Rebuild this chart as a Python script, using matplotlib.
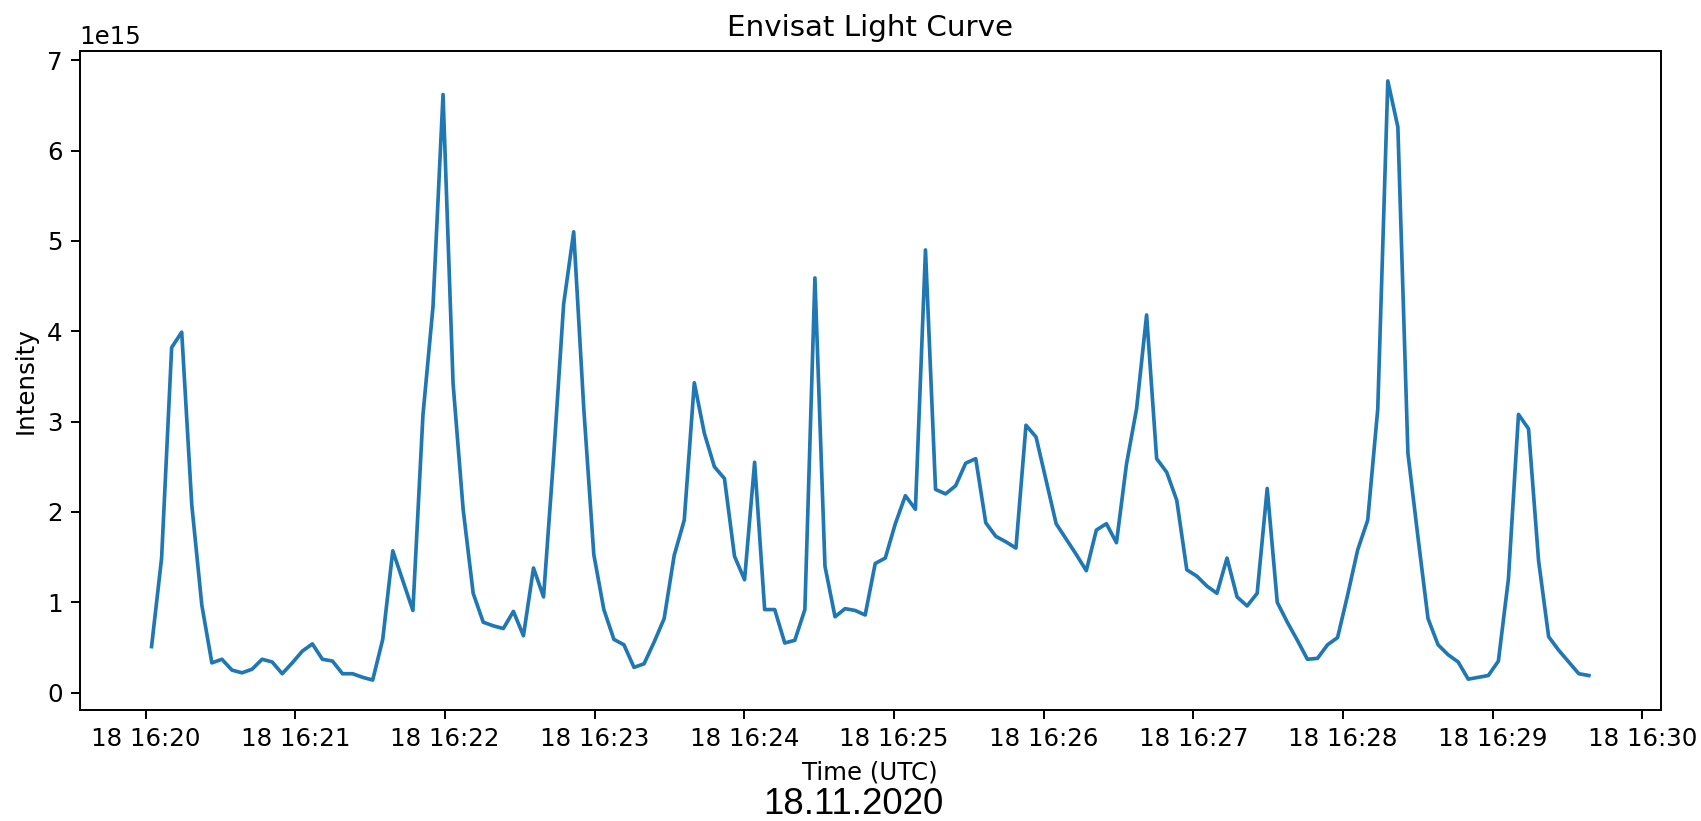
import numpy as np
import pandas as pd
import matplotlib
matplotlib.use("Agg")
from matplotlib import pyplot as plt
import matplotlib.dates as mdates

# light curve samples (units of 1e15), one every ~4 s
intensity = [0.51, 1.49, 3.82, 3.99, 2.08, 0.97, 0.33, 0.37, 0.25, 0.22,
             0.26, 0.37, 0.34, 0.21, 0.33, 0.46, 0.54, 0.37, 0.35, 0.21,
             0.21, 0.17, 0.14, 0.59, 1.57, 1.24, 0.91, 3.07, 4.27, 6.62,
             3.42, 2.03, 1.10, 0.78, 0.74, 0.71, 0.90, 0.63, 1.38, 1.06,
             2.60, 4.30, 5.10, 3.15, 1.53, 0.92, 0.59, 0.53, 0.28, 0.32,
             0.56, 0.82, 1.52, 1.91, 3.43, 2.87, 2.50, 2.37, 1.51, 1.25,
             2.55, 0.92, 0.92, 0.55, 0.58, 0.92, 4.59, 1.40, 0.84, 0.93,
             0.91, 0.86, 1.43, 1.49, 1.87, 2.18, 2.03, 4.90, 2.25, 2.20,
             2.29, 2.54, 2.59, 1.88, 1.73, 1.67, 1.60, 2.96, 2.83, 2.35,
             1.87, 1.70, 1.53, 1.35, 1.80, 1.87, 1.66, 2.53, 3.14, 4.18,
             2.59, 2.44, 2.13, 1.36, 1.29, 1.18, 1.10, 1.49, 1.06, 0.96,
             1.10, 2.26, 1.00, 0.78, 0.58, 0.37, 0.38, 0.53, 0.61, 1.08,
             1.58, 1.91, 3.14, 6.77, 6.26, 2.65, 1.72, 0.82, 0.53, 0.42,
             0.34, 0.15, 0.17, 0.19, 0.35, 1.26, 3.08, 2.92, 1.46, 0.62,
             0.47, 0.34, 0.21, 0.19]
t_start = "2020-11-18 16:20:02.4"
t_end = "2020-11-18 16:29:38.5"
date_text = "18.11.2020"

times = pd.date_range(t_start, t_end, periods=len(intensity))
y = np.array(intensity) * 1e15

DPI = 176
fig = plt.figure(figsize=(1701 / DPI, 821 / DPI), dpi=DPI)
ax = fig.add_axes([0.04685, 0.1352, 0.92946, 0.80268])

ax.plot(times, y, color="#1f77b4", linewidth=1.5)

ax.xaxis.set_major_locator(mdates.MinuteLocator())
ax.xaxis.set_major_formatter(mdates.DateFormatter("%d %H:%M"))

ax.set_title("Envisat Light Curve")
ax.set_xlabel("Time (UTC)")
ax.set_ylabel("Intensity")

fig.text(853 / 1701, 1 - 805 / 821, date_text, ha="center", va="center",
         fontsize=15, family=["Liberation Sans", "DejaVu Sans"])

fig.savefig("out.png", dpi=DPI)
